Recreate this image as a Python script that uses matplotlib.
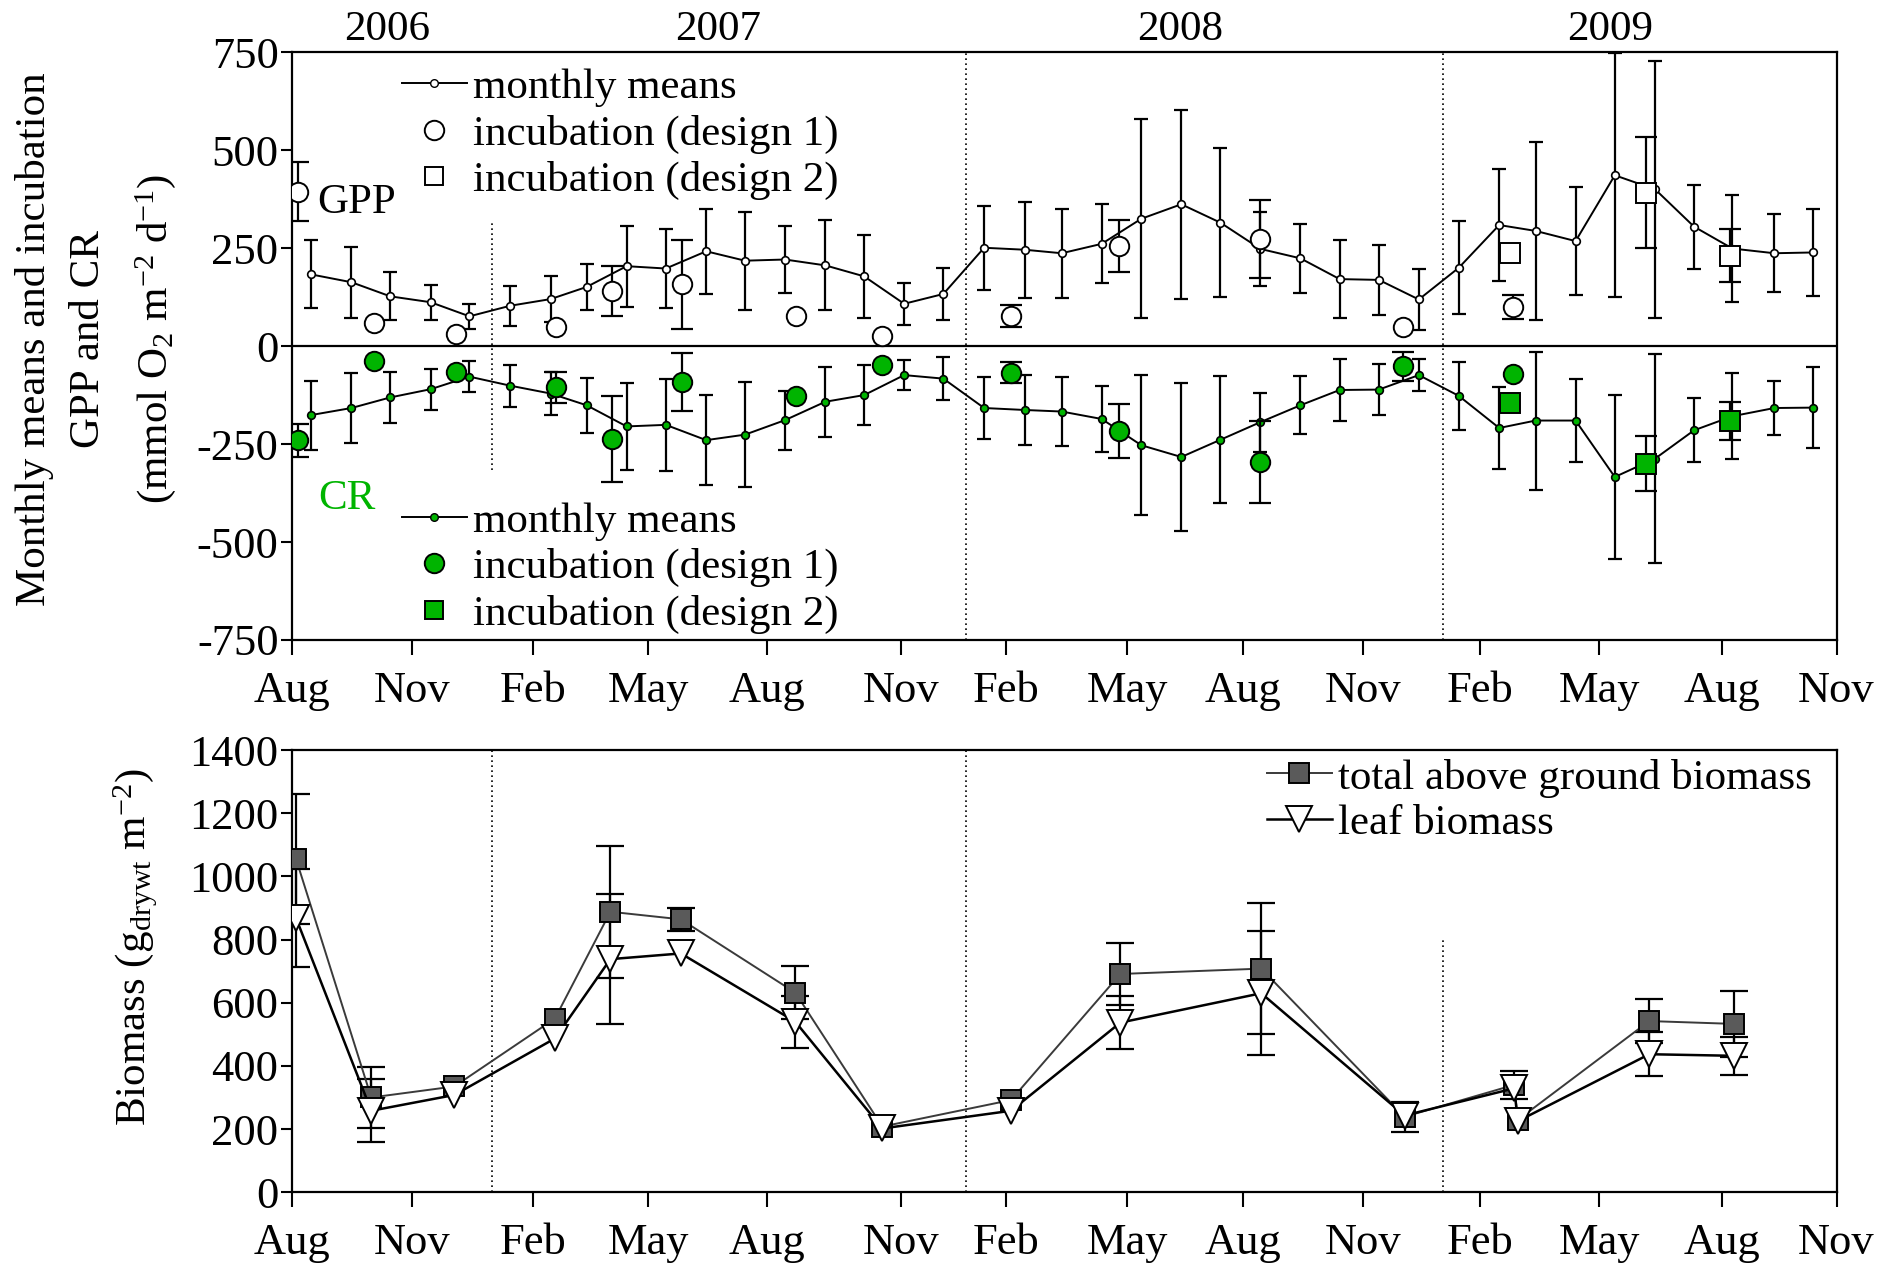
import numpy as np
import matplotlib
matplotlib.use("Agg")
from matplotlib import pyplot as plt
from matplotlib.lines import Line2D
from matplotlib.transforms import blended_transform_factory

plt.rcParams['font.family'] = 'Liberation Serif'
plt.rcParams['mathtext.fontset'] = 'custom'
plt.rcParams['mathtext.rm'] = 'Liberation Serif'
plt.rcParams['mathtext.it'] = 'Liberation Serif:italic'
plt.rcParams['axes.unicode_minus'] = False

# time axis in months since 1 Aug 2006
tick_pos = [0, 3.03, 6.07, 8.98, 11.98, 15.36, 18.03, 21.08, 24.02, 27.05, 30.0, 33.0, 36.11, 39.0]
tick_lab = ["Aug", "Nov", "Feb", "May", "Aug", "Nov", "Feb", "May", "Aug", "Nov", "Feb", "May", "Aug", "Nov"]
years = ["2006", "2007", "2008", "2009"]
year_pos = [2.40, 10.74, 22.42, 33.28]
year_breaks = [5.03, 17.01, 29.05]

# monthly means
t_month = [0.47, 1.49, 2.47, 3.49, 4.47, 5.50, 6.52, 7.43, 8.44, 9.43, 10.45, 11.43, 12.44,
           13.46, 14.44, 15.45, 16.44, 17.47, 18.49, 19.43, 20.44, 21.44, 22.45, 23.44, 24.45,
           25.46, 26.45, 27.44, 28.45, 29.46, 30.48, 31.40, 32.41, 33.40, 34.42, 35.40, 36.37,
           37.43, 38.41]
gpp_mean = [183, 163, 127, 112, 76, 103, 120, 151, 204, 198, 242, 218, 221, 206, 178, 108, 133,
            251, 246, 237, 261, 325, 362, 315, 248, 224, 171, 169, 119, 200, 309, 294, 268, 436,
            400, 305, 249, 237, 239]
gpp_sd = [87, 90, 61, 45, 32, 51, 58, 59, 103, 100, 109, 125, 85, 115, 105, 53, 66, 107, 122,
          114, 101, 254, 241, 190, 94, 88, 100, 89, 77, 119, 142, 228, 137, 311, 328, 107, 137,
          99, 112]
cr_mean = [-176, -158, -131, -110, -78, -101, -121, -151, -205, -201, -240, -226, -189, -142,
           -125, -74, -83, -158, -163, -167, -186, -253, -283, -239, -194, -151, -112, -111, -74,
           -127, -209, -190, -190, -334, -287, -215, -179, -158, -157]
cr_sd = [88, 90, 66, 52, 40, 54, 54, 70, 112, 117, 114, 134, 75, 89, 76, 38, 55, 80, 89, 87, 83,
         178, 188, 162, 75, 74, 80, 66, 40, 87, 105, 176, 107, 209, 266, 82, 110, 69, 104]

# incubations, design 1
t_inc1 = [0.15, 2.05, 4.14, 6.65, 8.07, 9.85, 12.72, 14.89, 18.15, 20.88, 24.45, 28.05, 30.82]
gpp_inc1 = [394, 58, 31, 48, 141, 158, 78, 27, 78, 256, 274, 49, 100]
gpp_inc1_sd = [75, 0, 0, 0, 64, 114, 0, 0, 28, 67, 100, 0, 31]
cr_inc1 = [-240, -38, -66, -105, -237, -92, -128, -47, -68, -217, -296, -52, -72]
cr_inc1_sd = [42, 0, 0, 40, 110, 74, 0, 0, 27, 69, 104, 38, 0]

# incubations, design 2
t_inc2 = [30.76, 34.19, 36.32]
gpp_inc2 = [237, 392, 231]
gpp_inc2_sd = [0, 142, 68]
cr_inc2 = [-146, -300, -191]
cr_inc2_sd = [0, 70, 48]

# biomass
t_bio = [0.09, 1.99, 4.09, 6.63, 8.03, 9.81, 12.70, 14.90, 18.15, 20.91, 24.47, 28.09, 30.86,
         30.95, 34.27, 36.40]
total_bio = [1055, 300, 335, 550, 888, 864, 632, 208, 292, 691, 708, 239, 340, 229, 542, 533]
total_sd = [205, 95, 0, 0, 209, 37, 85, 0, 0, 97, 208, 48, 45, 0, 69, 104]
leaf_bio = [868, 258, 308, 487, 738, 756, 540, 202, 258, 537, 630, 243, 329, 225, 437, 432]
leaf_sd = [155, 100, 0, 0, 205, 0, 82, 0, 0, 85, 197, 0, 0, 0, 70, 60]

GREEN = '#00b400'
FS = 31
TFS = 32

fig = plt.figure(figsize=(18.98, 12.65), dpi=100)
ax1 = fig.add_axes([0.1541, 0.4941, 0.8135, 0.4646])
ax2 = fig.add_axes([0.1541, 0.0575, 0.8135, 0.3496])

def style_axis(ax):
    for s in ax.spines.values():
        s.set_linewidth(1.6)
    ax.set_xlim(0, 39)
    ax.set_xticks(tick_pos)
    ax.set_xticklabels(tick_lab)
    ax.tick_params(axis='x', direction='out', length=11, width=1.5, labelsize=TFS, pad=11,
                   top=False)
    ax.tick_params(axis='y', direction='out', length=8, width=1.5, labelsize=TFS, pad=2,
                   right=False)

def errs(sd):
    return [s if s > 0 else np.nan for s in sd]

# ---- GPP / CR panel
style_axis(ax1)
ax1.set_ylim(-750, 750)
ax1.set_yticks([-750, -500, -250, 0, 250, 500, 750])
ax1.axhline(0, color='k', lw=1.6, zorder=2)
ax1.axvline(year_breaks[0], ymin=0.289, ymax=0.709, color='k', lw=1.2, ls=(0, (1, 2)))
for xb in year_breaks[1:]:
    ax1.axvline(xb, color='k', lw=1.2, ls=(0, (1, 2)))

eb = dict(ecolor='k', elinewidth=1.6, capthick=1.6, linestyle='none')
ax1.errorbar(t_month, gpp_mean, yerr=gpp_sd, capsize=5, zorder=3, **eb)
ax1.plot(t_month, gpp_mean, '-o', color='k', lw=1.4, ms=5.5, mfc='white', mec='k', mew=1.2, zorder=4)
ax1.errorbar(t_month, cr_mean, yerr=cr_sd, capsize=5, zorder=3, **eb)
ax1.plot(t_month, cr_mean, '-o', color='k', lw=1.4, ms=5.5, mfc=GREEN, mec='k', mew=1.2, zorder=4)

ax1.errorbar(t_inc1, gpp_inc1, yerr=errs(gpp_inc1_sd), capsize=8, zorder=5, **eb)
ax1.plot(t_inc1, gpp_inc1, 'o', ms=14, mfc='white', mec='k', mew=1.4, zorder=6)
ax1.errorbar(t_inc1, cr_inc1, yerr=errs(cr_inc1_sd), capsize=8, zorder=5, **eb)
ax1.plot(t_inc1, cr_inc1, 'o', ms=14, mfc=GREEN, mec='k', mew=1.4, zorder=6)
ax1.errorbar(t_inc2, gpp_inc2, yerr=errs(gpp_inc2_sd), capsize=8, zorder=5, **eb)
ax1.plot(t_inc2, gpp_inc2, 's', ms=14, mfc='white', mec='k', mew=1.4, zorder=6)
ax1.errorbar(t_inc2, cr_inc2, yerr=errs(cr_inc2_sd), capsize=8, zorder=5, **eb)
ax1.plot(t_inc2, cr_inc2, 's', ms=14, mfc=GREEN, mec='k', mew=1.4, zorder=6)

ax1.text(0.62, 365, "GPP", fontsize=FS, va='center', ha='left')
ax1.text(0.64, -390, "CR", fontsize=FS, va='center', ha='left', color=GREEN)

trans = blended_transform_factory(ax1.transData, ax1.transAxes)
for yr, xp in zip(years, year_pos):
    ax1.text(xp, 1.038, yr, fontsize=FS, ha='center', va='center', transform=trans)

def legend_handles(fill):
    return [Line2D([], [], color='k', lw=1.4, marker='o', ms=5.5, mfc=fill, mec='k'),
            Line2D([], [], color='none', marker='o', ms=14, mfc=fill, mec='k', mew=1.4),
            Line2D([], [], color='none', marker='s', ms=13, mfc=fill, mec='k', mew=1.4)]

labels = ["monthly means", "incubation (design 1)", "incubation (design 2)"]
leg_kw = dict(frameon=False, fontsize=FS, handlelength=1.5, handletextpad=0.15,
              labelspacing=0.17, borderpad=0, borderaxespad=0)
leg1 = ax1.legend(legend_handles('white'), labels, loc='upper left',
                  bbox_to_anchor=(0.071, 0.973), **leg_kw)
ax1.add_artist(leg1)
ax1.legend(legend_handles(GREEN), labels, loc='upper left',
           bbox_to_anchor=(0.071, 0.235), **leg_kw)

# ---- biomass panel
style_axis(ax2)
ax2.set_ylim(0, 1400)
ax2.set_yticks(range(0, 1401, 200))
ax2.axvline(year_breaks[0], color='k', lw=1.2, ls=(0, (1, 2)))
ax2.axvline(year_breaks[1], color='k', lw=1.2, ls=(0, (1, 2)))
ax2.axvline(year_breaks[2], ymax=0.571, color='k', lw=1.2, ls=(0, (1, 2)))

ax2.errorbar(t_bio, total_bio, yerr=errs(total_sd), capsize=10, zorder=3, **eb)
ax2.errorbar(t_bio, leaf_bio, yerr=errs(leaf_sd), capsize=10, zorder=3, **eb)
ax2.plot(t_bio, total_bio, '-s', color='#3a3a3a', lw=1.4, ms=15, mfc='#5a5a5a', mec='k',
         mew=1.4, zorder=4, label="total above ground biomass")
ax2.plot(t_bio, leaf_bio, '-v', color='k', lw=1.8, ms=19, mfc='white', mec='k',
         mew=1.4, zorder=5, label="leaf biomass")
ax2.legend(loc='upper right', bbox_to_anchor=(0.984, 0.981), frameon=False, fontsize=FS,
           handlelength=1.5, handletextpad=0.15, labelspacing=0.15, borderpad=0, borderaxespad=0)

fig.text(0.018, 0.732, "Monthly means and incubation", rotation=90, fontsize=FS,
         ha='center', va='center')
fig.text(0.047, 0.732, "GPP and CR", rotation=90, fontsize=FS, ha='center', va='center')
fig.text(0.082, 0.732, r"(mmol O$_2$ m$^{-2}$ d$^{-1}$)", rotation=90, fontsize=FS,
         ha='center', va='center')
fig.text(0.0714, 0.2514, r"Biomass (g$_{\mathrm{drywt}}$ m$^{-2}$)", rotation=90, fontsize=FS,
         ha='center', va='center')

fig.savefig("out.png", dpi=100)
